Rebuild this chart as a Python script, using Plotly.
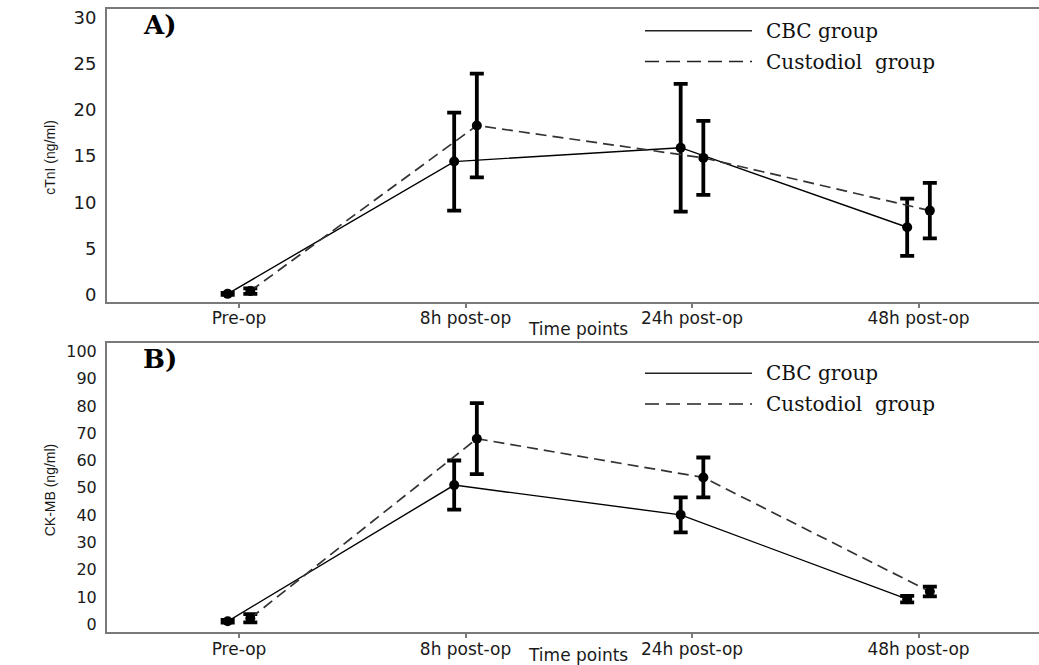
import numpy as np
import plotly.graph_objects as go

# ---------------- data ----------------
time_points = ["Pre-op", "8h post-op", "24h post-op", "48h post-op"]

ctni_cbc_mean = [0.1, 14.4, 15.9, 7.3]
ctni_cbc_err = [0.1, 5.3, 6.9, 3.1]
ctni_cust_mean = [0.4, 18.3, 14.8, 9.1]
ctni_cust_err = [0.3, 5.6, 4.0, 3.0]

ckmb_cbc_mean = [1.1, 51.0, 40.1, 9.2]
ckmb_cbc_err = [0.5, 9.0, 6.4, 1.2]
ckmb_cust_mean = [2.2, 68.0, 53.8, 12.0]
ckmb_cust_err = [1.5, 13.0, 7.3, 1.8]

ctni_ticks = [0, 5, 10, 15, 20, 25, 30]
ckmb_ticks = [0, 10, 20, 30, 40, 50, 60, 70, 80, 90, 100]

# ---------------- layout helpers ----------------
W, H = 1039, 665
def px(p):
    return p / W
def py(p):
    return 1 - p / H

dodge = 0.05
xi = np.arange(len(time_points))

SANS = "DejaVu Sans"
SERIF = "DejaVu Serif"
AXIS_COLOR = "#7a7a7a"
TXT = "#1a1a1a"

fig = go.Figure()

def add_series(mean, err, xoff, dash, color, width, xa, ya):
    fig.add_trace(go.Scatter(
        x=xi + xoff, y=mean, mode="lines+markers",
        line=dict(color=color, width=width, dash=dash),
        marker=dict(symbol="circle", size=10, color="black"),
        error_y=dict(type="data", array=err, visible=True, color="black",
                     thickness=3.8, width=7),
        xaxis=xa, yaxis=ya, showlegend=False, cliponaxis=False,
        hoverinfo="skip",
    ))

add_series(ctni_cbc_mean, ctni_cbc_err, -dodge, "solid", "black", 1.4, "x", "y")
add_series(ctni_cust_mean, ctni_cust_err, dodge, "11px,6px", "#333333", 1.7, "x", "y")
add_series(ckmb_cbc_mean, ckmb_cbc_err, -dodge, "solid", "black", 1.4, "x2", "y2")
add_series(ckmb_cust_mean, ckmb_cust_err, dodge, "11px,6px", "#333333", 1.7, "x2", "y2")

xrange = [-(239 - 107) / 226.5, (1039 - 239) / 226.5]

def xaxis_cfg(anchor):
    return dict(
        domain=[px(107), 1.0], range=xrange, anchor=anchor,
        tickmode="array", tickvals=list(xi), ticktext=time_points,
        ticks="outside", ticklen=4, tickwidth=1.5, tickcolor=AXIS_COLOR,
        showline=True, linecolor=AXIS_COLOR, linewidth=2, mirror=True,
        showgrid=False, zeroline=False, ticklabelstandoff=-4,
        tickfont=dict(family=SANS, size=17, color=TXT),
    )

def yaxis_cfg(anchor, dom, rng, ticks, size):
    return dict(
        domain=dom, range=rng, anchor=anchor,
        tickmode="array", tickvals=ticks,
        ticks="", showline=True, linecolor=AXIS_COLOR, linewidth=2,
        showgrid=False, zeroline=False, ticklabelstandoff=5,
        tickfont=dict(family=SANS, size=size, color=TXT),
    )

fig.update_layout(
    width=W, height=H,
    margin=dict(l=0, r=0, t=0, b=0),
    paper_bgcolor="white", plot_bgcolor="white",
    xaxis=xaxis_cfg("y"),
    yaxis=yaxis_cfg("x", [py(302), py(7)], [-0.75, 30.9], ctni_ticks, 18),
    xaxis2=xaxis_cfg("y2"),
    yaxis2=yaxis_cfg("x2", [py(635), py(344)], [-2.9, 102.9], ckmb_ticks, 16),
)

annotations = []
shapes = []

def ann(text, x, y, font, xanchor="center", yanchor="middle", angle=0):
    annotations.append(dict(
        text=text, x=px(x), y=py(y), xref="paper", yref="paper",
        xanchor=xanchor, yanchor=yanchor, showarrow=False,
        textangle=angle, font=font,
    ))

# axis titles
ann("cTnI (ng/ml)", 50, 157, dict(family="Liberation Sans", size=14, color=TXT), angle=-90)
ann("CK-MB (ng/ml)", 50, 492, dict(family="Liberation Sans", size=14, color=TXT), angle=-90)
ann("Time points", 578, 329, dict(family=SANS, size=17, color=TXT))
ann("Time points", 578, 658, dict(family=SANS, size=17, color=TXT))

# panel letters
ann("<b>A)</b>", 141, 23, dict(family=SERIF, size=26, color="black"), xanchor="left")
ann("<b>B)</b>", 141, 360, dict(family=SERIF, size=26, color="black"), xanchor="left")

# legends (drawn as line samples + text)
legend_font = dict(family=SERIF, size=20, color="#111111")
for y_cbc, y_cust in [(29, 60), (374, 405)]:
    shapes.append(dict(type="line", xref="paper", yref="paper",
                       x0=px(645), x1=px(752), y0=py(y_cbc), y1=py(y_cbc),
                       line=dict(color="#222222", width=1.5)))
    shapes.append(dict(type="line", xref="paper", yref="paper",
                       x0=px(645), x1=px(752), y0=py(y_cust), y1=py(y_cust),
                       line=dict(color="#222222", width=1.5, dash="14px,7px")))
    ann("CBC group", 764, y_cbc, legend_font, xanchor="left")
    ann("Custodiol\u00a0\u00a0group", 764, y_cust, legend_font, xanchor="left")

fig.update_layout(annotations=annotations, shapes=shapes)

fig.write_html(
    "out.html",
    config={"displayModeBar": False},
    post_script="document.body.style.margin='0';document.body.style.overflow='hidden';"
                "document.documentElement.style.overflow='hidden';",
)
